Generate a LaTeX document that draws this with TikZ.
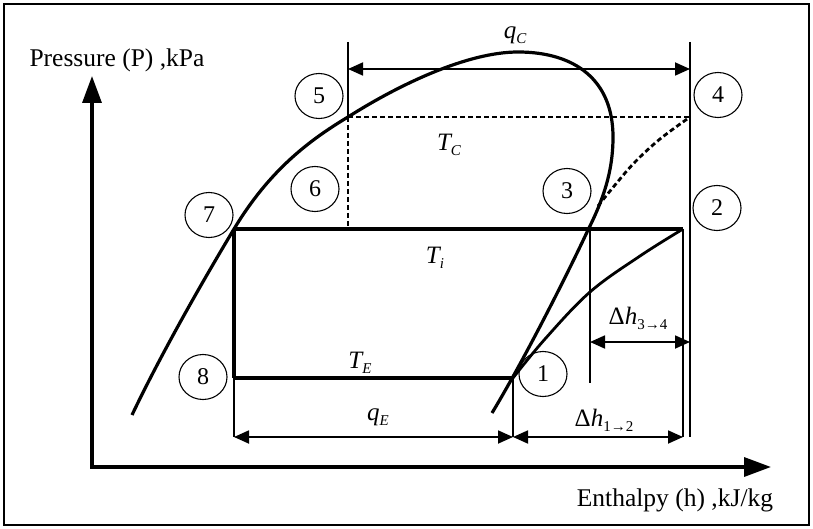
\documentclass[tikz,border=0pt]{standalone}
\usepackage{fontspec}
\setmainfont{Liberation Serif}
\usetikzlibrary{arrows.meta,shapes.geometric}
\newcommand{\qlbl}[2]{{\fontsize{25}{25}\selectfont\itshape #1}\raisebox{-5pt}{\fontsize{15}{15}\selectfont\itshape #2}}
\newcommand{\dhlbl}[1]{{\fontsize{25}{25}\selectfont Δ\itshape h}\raisebox{-5pt}{\fontsize{15}{15}\selectfont #1}}
\begin{document}
\begin{tikzpicture}[x=1pt,y=-1pt,
  thickline/.style={line width=3.2pt},
  thinline/.style={line width=1.8pt},
  dashline/.style={line width=2.8pt, dash pattern=on 5pt off 3pt},
  dim/.style={line width=1.8pt, {Triangle[length=15pt,width=13pt]}-{Triangle[length=15pt,width=13pt]}},
  axisline/.style={line width=3.4pt, {Triangle[length=27pt,width=19pt]}-{Triangle[length=27pt,width=19pt]}},
  statenode/.style={ellipse, draw, line width=1.1pt, minimum width=48pt, minimum height=45pt, inner sep=0pt, font=\fontsize{24}{24}\selectfont},
  lab/.style={inner sep=0pt, font=\fontsize{25.5}{25.5}\selectfont}
]
\useasboundingbox (0,0) rectangle (813,529);
\draw[line width=2.2pt] (4,4) rectangle (809,525);

% key coordinates
\coordinate (ytip) at (92,76);
\coordinate (orig) at (92,467);
\coordinate (xtip) at (771,467);
\coordinate (P7) at (234,229);
\coordinate (P6) at (348,229);
\coordinate (P5) at (348,117);
\coordinate (P4) at (690,117);
\coordinate (P3) at (590,229);
\coordinate (P2) at (683,229);
\coordinate (P1) at (513,378);
\coordinate (P8) at (234,378);
\coordinate (T5) at (348,42);
\coordinate (T4) at (690,42);
\coordinate (B4) at (690,437);
\coordinate (B2) at (683,437);
\coordinate (B8) at (234,437);
\coordinate (B1) at (513,437);
\coordinate (B3) at (590,383);
\coordinate (qCl) at (348,69);
\coordinate (qCr) at (690,69);
\coordinate (d34l) at (590,342);
\coordinate (d34r) at (690,342);
\coordinate (Dbeg) at (132,415);
\coordinate (Dtop) at (518,52);
\coordinate (Dright) at (613,137);
\coordinate (D3) at (588,230);
\coordinate (Dend) at (492,413);

% axes
\draw[axisline] (ytip) -- (orig) -- (xtip);
\node[lab] (plab) at (117,60) {Pressure (P) ,kPa};
\node[lab] (hlab) at (675,500) {Enthalpy (h) ,kJ/kg};

% saturation dome
\draw[line width=3.2pt, line join=round] (Dbeg)
  .. controls (162,352) and (204,279) .. (P7)
  .. controls (269,171) and (308,141) .. (P5)
  .. controls (400,84) and (468,52) .. (Dtop)
  .. controls (575,52) and (613,80) .. (Dright)
  .. controls (613,172) and (603,200) .. (D3)
  .. controls (567,275) and (524,360) .. (Dend);

% cycle lines
\draw[thickline] (P7) -- (P2);
\draw[thickline] (P8) -- (P1);
\draw[thickline] (P7) -- (P8);
\draw[dashline] (P5) -- (P4);
\draw[dashline] (P5) -- (P6);
\draw[dashline] plot[smooth, tension=0.6] coordinates {(598,206) (615,185) (635,162) (660,139) (690,117)};
\draw[line width=2.8pt] plot[smooth, tension=0.6] coordinates {(513,378) (545,339) (590,292) (640,256) (683,229)};

% extension lines
\draw[thinline] (T5) -- (P5);
\draw[thinline] (T4) -- (B4);
\draw[thinline] (P2) -- (B2);
\draw[thinline] (P8) -- (B8);
\draw[thinline] (P1) -- (B1);
\draw[thinline] (P3) -- (B3);

% dimension arrows
\draw[dim] (qCl) -- (qCr);
\draw[dim] (d34l) -- (d34r);
\draw[dim] (B8) -- (B1);
\draw[dim] (B1) -- (B2);

% labels
\node[lab] (qC) at (515,35) {\qlbl{q}{C}};
\node[lab] (TC) at (449,145) {\qlbl{T}{C}};
\node[lab] (Ti) at (435,258) {\qlbl{T}{i}};
\node[lab] (TE) at (360,363) {\qlbl{T}{E}};
\node[lab] (qE) at (378,417) {\qlbl{q}{E}};
\node[lab] (d34) at (638,318) {\dhlbl{3→4}};
\node[lab] (d12) at (604,420) {\dhlbl{1→2}};

% state circles
\node[statenode] (s1) at (543,374) {1};
\node[statenode] (s2) at (717,208) {2};
\node[statenode] (s3) at (567,191) {3};
\node[statenode] (s4) at (718,95) {4};
\node[statenode] (s5) at (319,96) {5};
\node[statenode] (s6) at (315,189) {6};
\node[statenode] (s7) at (209,215) {7};
\node[statenode] (s8) at (203,377) {8};
\end{tikzpicture}
\end{document}
